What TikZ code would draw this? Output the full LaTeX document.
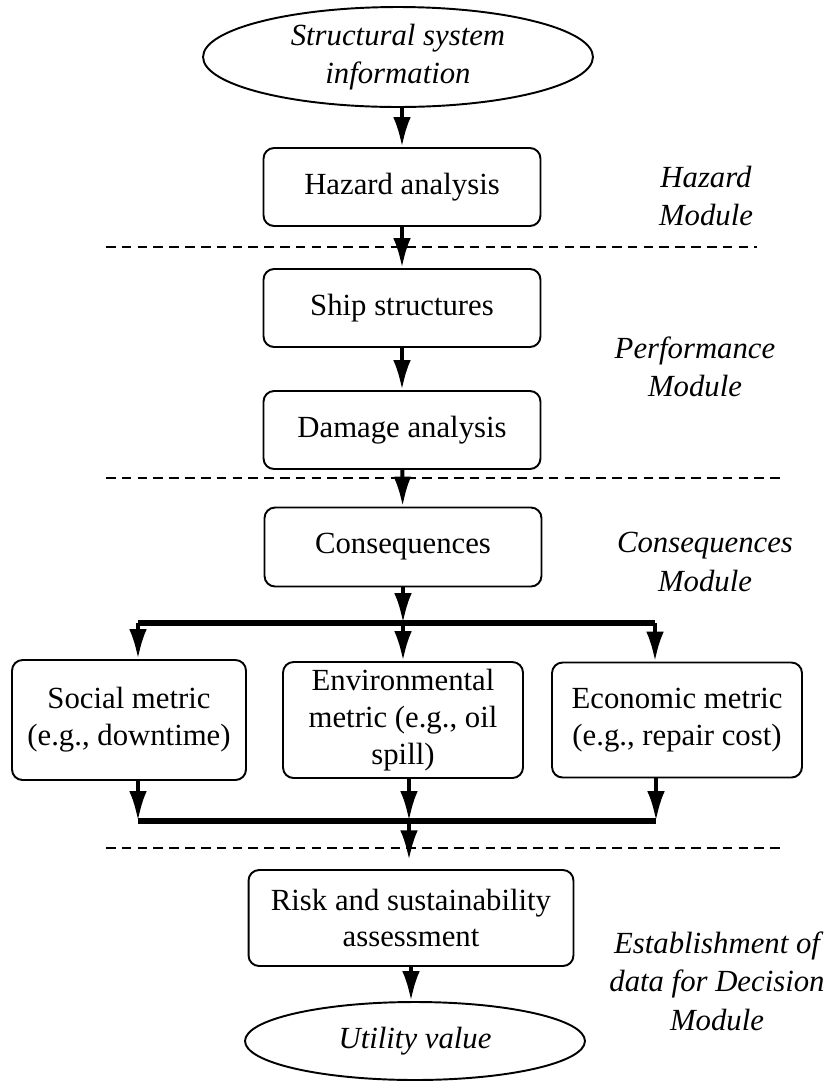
\documentclass[tikz,border=0pt]{standalone}
\usepackage{fontspec}
\setmainfont{Liberation Serif}
\usetikzlibrary{shapes,arrows,positioning,calc,arrows.meta}

\begin{document}
\begin{tikzpicture}[x=0.02cm, y=-0.02cm,
    box/.style={draw, line width=1.1pt, rounded corners=6pt, minimum width=5.54cm, minimum height=1.56cm, align=center, font=\fontsize{17.5}{21}\selectfont},
    term/.style={draw, line width=1.1pt, ellipse, inner sep=0pt, align=center, font=\fontsize{17.5}{21.5}\selectfont\itshape},
    module/.style={align=center, font=\fontsize{17.5}{22}\selectfont\itshape},
    arrow/.style={-{Latex[length=17pt,width=10pt]}, line width=2.3pt},
    bus/.style={line width=3.7pt},
    sep/.style={line width=0.9pt, dash pattern=on 5.5pt off 3.5pt}
]
\useasboundingbox (0,0) rectangle (833,1083);

\node[term, minimum width=7.8cm, minimum height=2cm] (info) at (398,57) {Structural system\\information};
\node[box] (hazard) at (402,187) {Hazard analysis};
\node[box] (ship) at (402,308) {Ship structures};
\node[box] (damage) at (402,430) {Damage analysis};
\node[box, minimum height=1.58cm] (cons) at (403,547) {Consequences};

\node[box, minimum width=4.68cm, minimum height=2.4cm] (social) at (129,720) {Social metric\\(e.g., downtime)};
\node[box, minimum width=4.8cm, minimum height=2.32cm] (env) at (403,720) {Environmental\\metric (e.g., oil\\spill)};
\node[box, minimum width=5cm, minimum height=2.3cm] (econ) at (677,720) {Economic metric\\(e.g., repair cost)};

\node[box, minimum width=6.5cm, minimum height=1.92cm] (risk) at (411,918) {Risk and sustainability\\assessment};
\node[term, minimum width=6.8cm, minimum height=1.56cm] (util) at (415,1041) {Utility value};

\node[module] (hazmod) at (706,196) {Hazard\\Module};
\node[module] (perfmod) at (695,367) {Performance\\Module};
\node[module] (consmod) at (705,562) {Consequences\\Module};
\node[module] (decmod) at (717,981) {Establishment of\\data for Decision\\Module};

\coordinate (tl) at (138,623);
\coordinate (tm) at (403,623);
\coordinate (tr) at (655,623);
\coordinate (ll) at (138,821);
\coordinate (lm) at (409,821);
\coordinate (lr) at (656,821);

\draw[arrow] (hazard.north |- info.south) -- (hazard);
\draw[arrow] (hazard) -- (ship);
\draw[arrow] (ship) -- (damage);
\draw[arrow] (damage) -- (cons);
\draw[arrow] (cons) -- (tm);

\draw[bus] (tl) -- (tr);
\draw[bus] (ll) -- (lr);
\foreach \c/\n in {tl/social, tm/env, tr/econ}
    \draw[arrow] (\c) -- (\c |- \n.north);
\foreach \c/\n in {ll/social, lm/env, lr/econ}
    \draw[arrow] (\c |- \n.south) -- (\c);
\draw[arrow, shorten >=5pt] (lm) -- (lm |- risk.north);
\draw[arrow] (risk.south) -- (risk.south |- util.north);

\draw[sep] (106,247) -- (757,247);
\draw[sep] (106,478) -- (785,478);
\draw[sep] (106,848) -- (783,848);
\end{tikzpicture}
\end{document}
